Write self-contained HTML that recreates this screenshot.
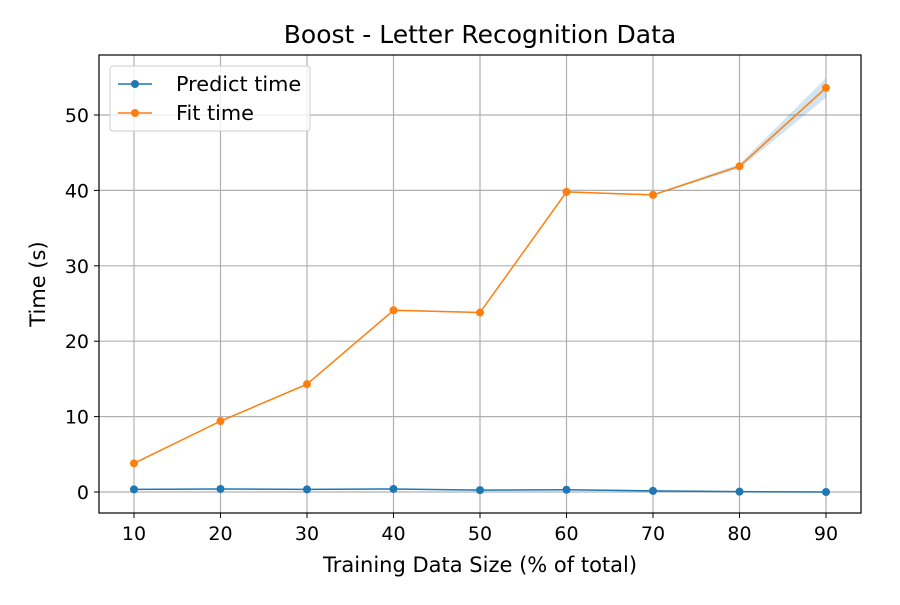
<!DOCTYPE html>
<html><head><meta charset="utf-8"><style>
body{margin:0;background:#fff;}
svg{font-family:"DejaVu Sans","Liberation Sans",sans-serif;}
</style></head><body>
<svg id="chart" width="900" height="600">
<rect width="900" height="600" fill="#fff"/>
<g id="grid"></g>
<g id="band"></g>
<g id="series"></g>
<rect x="99" y="55" width="762" height="458" fill="none" stroke="#000" stroke-width="1.2"/>
<g id="ticks"></g>
<text x="480" y="43" text-anchor="middle" font-size="25">Boost - Letter Recognition Data</text>
<text x="480" y="572" text-anchor="middle" font-size="21">Training Data Size (% of total)</text>
<text transform="translate(45,284) rotate(-90)" text-anchor="middle" font-size="21">Time (s)</text>
<g>
<rect x="110" y="66" width="200" height="65" rx="3" fill="#fff" fill-opacity="0.8" stroke="#ccc"/>
<g>
<line x1="118" y1="84" x2="152" y2="84" stroke="#1f77b4" stroke-width="1.5"/><circle cx="135" cy="84" r="4" fill="#1f77b4"/>
<text x="176" y="91" font-size="20.8">Predict time</text></g>
<g>
<line x1="118" y1="113" x2="152" y2="113" stroke="#ff7f0e" stroke-width="1.5"/><circle cx="135" cy="113" r="4" fill="#ff7f0e"/>
<text x="176" y="120" font-size="20.8">Fit time</text></g>
</g>
</svg>
<script>
const categories=[10,20,30,40,50,60,70,80,90];
const predictTime=[0.35,0.4,0.35,0.4,0.25,0.3,0.15,0.05,0.0];
const fitTime=[3.8,9.4,14.3,24.1,23.8,39.8,39.4,43.2,53.6];
const fitStd=[0.1,0.1,0.1,0.1,0.1,0.1,0.1,0.3,1.3];
const yTicks=[0,10,20,30,40,50];
const NS="http://www.w3.org/2000/svg";
const xs=v=>134+(v-10)*(826-134)/80;
const ys=v=>492-v*(492-115)/50;
function mk(tag,attrs,parent){const e=document.createElementNS(NS,tag);for(const k in attrs)e.setAttribute(k,attrs[k]);document.getElementById(parent).appendChild(e);return e;}
categories.forEach(c=>{
 const g=mk('line',{x1:xs(c),x2:xs(c),y1:55,y2:513,stroke:'#b0b0b0','stroke-width':1.2},'grid');
 
 
 mk('line',{x1:xs(c),x2:xs(c),y1:513,y2:518,stroke:'#000'},'ticks');
 const t=mk('text',{x:xs(c),y:540,'text-anchor':'middle','font-size':19},'ticks');t.textContent=c;
 
 
});
yTicks.forEach(v=>{
 const g=mk('line',{x1:99,x2:861,y1:ys(v),y2:ys(v),stroke:'#b0b0b0','stroke-width':1.2},'grid');
 
 
 mk('line',{x1:94,x2:99,y1:ys(v),y2:ys(v),stroke:'#000'},'ticks');
 const t=mk('text',{x:89,y:ys(v)+7,'text-anchor':'end','font-size':19},'ticks');t.textContent=v;
 
 
});
const up=categories.map((c,i)=>xs(c)+','+ys(fitTime[i]+fitStd[i]));
const dn=categories.map((c,i)=>xs(c)+','+ys(fitTime[i]-fitStd[i])).reverse();
const b=mk('polygon',{points:up.concat(dn).join(' '),fill:'#1f77b4','fill-opacity':0.2},'band');


[[predictTime,'#1f77b4','predict'],[fitTime,'#ff7f0e','fit']].forEach(([d,col,n])=>{
 const l=mk('polyline',{points:categories.map((c,i)=>xs(c)+','+ys(d[i])).join(' '),fill:'none',stroke:col,'stroke-width':1.5},'series');
 
 
 categories.forEach((c,i)=>{
  const p=mk('circle',{cx:xs(c),cy:ys(d[i]),r:4,fill:col},'series');
  
  
 });
});
</script>
</body></html>
